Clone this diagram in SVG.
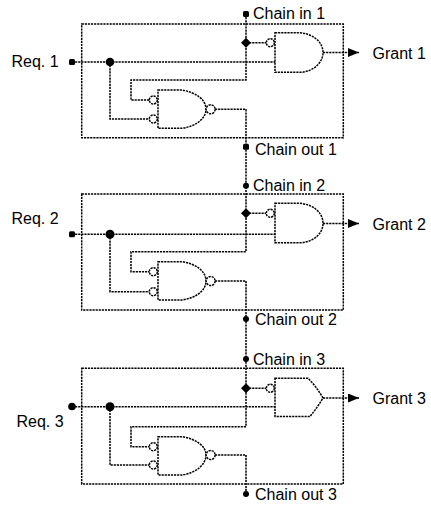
<svg xmlns="http://www.w3.org/2000/svg" width="431" height="508" viewBox="0 0 431 508">
<style>
.w{fill:none;stroke:#000;stroke-width:1.5;stroke-dasharray:2.2 0.9}
.g{fill:#fff;stroke:#000;stroke-width:1.5;stroke-dasharray:2.2 0.9}
.d{fill:#000;stroke:none}
text{font-family:"Liberation Sans",Arial,sans-serif;font-size:16px;fill:#000}
</style>
<defs>
<marker id="arr" markerUnits="userSpaceOnUse" markerWidth="12" markerHeight="10" refX="11" refY="4.5" orient="auto">
<path d="M0,0 L11,4.5 L0,9 z" fill="#000"/>
</marker>
</defs>
<rect width="431" height="508" fill="#fff"/>

<g id="boxes">
<rect id="box1" class="w" x="81.7" y="24" width="261.6" height="113.7"/>
<rect id="box2" class="w" x="81.7" y="194" width="261.6" height="116"/>
<rect id="box3" class="w" x="81.7" y="368.3" width="261.6" height="115.7"/>
</g>

<g id="connectors">
<!-- block 1 -->
<polyline class="w" points="246,14 246,80 131,80 131,100 149.3,100"/>
<line class="w" x1="246" y1="42.7" x2="266" y2="42.7"/>
<line class="w" x1="72" y1="62" x2="275" y2="62"/>
<polyline class="w" points="110,62 110,119 149.3,119"/>
<polyline class="w" points="215,109.3 246,109.3 246,251.7 131,251.7 131,271.7 149.3,271.7"/>
<line class="w" x1="323" y1="52.5" x2="359" y2="52.5" marker-end="url(#arr)"/>
<!-- block 2 -->
<line class="w" x1="246" y1="213.3" x2="266" y2="213.3"/>
<line class="w" x1="72" y1="234.3" x2="275" y2="234.3"/>
<polyline class="w" points="110,234.3 110,291.7 149.3,291.7"/>
<polyline class="w" points="215,281 246,281 246,426.7 131,426.7 131,446.7 149.3,446.7"/>
<line class="w" x1="323" y1="223.5" x2="359" y2="223.5" marker-end="url(#arr)"/>
<!-- block 3 -->
<line class="w" x1="246" y1="388.3" x2="266" y2="388.3"/>
<line class="w" x1="72" y1="406.7" x2="275" y2="406.7"/>
<polyline class="w" points="110,406.7 110,465 149.3,465"/>
<polyline class="w" points="215,455 246,455 246,494"/>
<line class="w" x1="323" y1="398" x2="359" y2="398" marker-end="url(#arr)"/>
</g>

<g id="dots">
<rect class="d" x="243" y="11" width="6" height="6" rx="1.5"/>
<path class="d" d="M246,37.7 L251,42.7 L246,47.7 L241,42.7 z"/>
<rect class="d" x="69" y="59" width="6" height="6" rx="1.5"/>
<circle class="d" cx="110" cy="62" r="4.3"/>
<rect class="d" x="243" y="143.7" width="6" height="6" rx="1.5"/>

<circle class="d" cx="246" cy="185.7" r="3"/>
<path class="d" d="M246,208.3 L251,213.3 L246,218.3 L241,213.3 z"/>
<rect class="d" x="69" y="231.3" width="6" height="6" rx="1.5"/>
<circle class="d" cx="110" cy="234.3" r="4.5"/>
<circle class="d" cx="246" cy="319" r="3"/>

<circle class="d" cx="246" cy="359" r="3"/>
<path class="d" d="M246,383.3 L251,388.3 L246,393.3 L241,388.3 z"/>
<circle class="d" cx="72" cy="406.5" r="3.8"/>
<circle class="d" cx="110" cy="406.7" r="4.5"/>
<circle class="d" cx="246" cy="494" r="3"/>
</g>

<g id="grant-gate-1">
<path class="g" d="M275,32.7 H299 C313,33.5 323,42 323,52.5 C323,63 313,71.5 301,72.3 H275 Z"/>
<circle class="g" cx="270.3" cy="42.7" r="4"/>
</g>
<g id="chain-gate-1">
<path class="g" d="M158,90 H182 C196,92.5 206,99.5 206,109.3 C206,119 195,126.5 182,128.3 H158 Z"/>
<circle class="g" cx="153.3" cy="100" r="4"/>
<circle class="g" cx="153.3" cy="119" r="4"/>
<circle class="g" cx="210.6" cy="109.3" r="4.5"/>
</g>

<g id="grant-gate-2">
<path class="g" d="M275,203.3 H299 C313,204 323,212.5 323,223.3 C323,234 313,242 301,242.7 H275 Z"/>
<circle class="g" cx="270.3" cy="213.3" r="4"/>
</g>
<g id="chain-gate-2">
<path class="g" d="M158,261.7 H182 C196,264 206,271 206,281 C206,291 195,298.3 182,300 H158 Z"/>
<circle class="g" cx="153.3" cy="271.7" r="4"/>
<circle class="g" cx="153.3" cy="291.7" r="4"/>
<circle class="g" cx="210.6" cy="281" r="4.5"/>
</g>

<g id="grant-gate-3">
<path class="g" d="M275,378.3 H308 Q316,386 323,398 Q317,408 310,416.5 H275 Z"/>
<circle class="g" cx="270.3" cy="388.3" r="4"/>
</g>
<g id="chain-gate-3">
<path class="g" d="M158,436.7 H182 C196,439 206,446 206,455 C206,465 195,473.3 182,475 H158 Z"/>
<circle class="g" cx="153.3" cy="446.7" r="4"/>
<circle class="g" cx="153.3" cy="465" r="4"/>
<circle class="g" cx="210.6" cy="455" r="4.5"/>
</g>

<g id="labels">
<text x="253" y="18.5">Chain in 1</text>
<text x="11.5" y="67.3">Req. 1</text>
<text x="372.5" y="59">Grant 1</text>
<text x="255" y="155">Chain out 1</text>
<text x="253" y="191">Chain in 2</text>
<text x="11.5" y="224">Req. 2</text>
<text x="372.5" y="230">Grant 2</text>
<text x="255" y="325">Chain out 2</text>
<text x="253" y="365">Chain in 3</text>
<text x="16.5" y="426.7">Req. 3</text>
<text x="372.5" y="403.5">Grant 3</text>
<text x="255" y="500">Chain out 3</text>
</g>
</svg>
